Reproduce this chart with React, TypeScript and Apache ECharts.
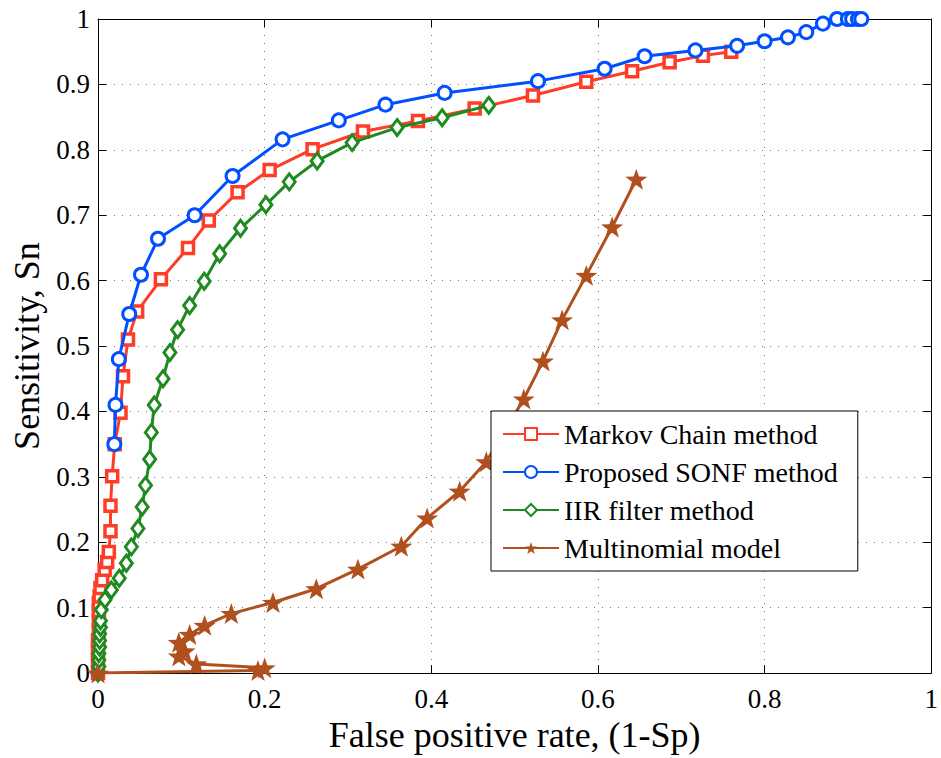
import React, { useEffect, useRef } from "react";
import * as echarts from "echarts";

// ---- Data ----
const seriesNames = [
  "Markov Chain method",
  "Proposed SONF method",
  "IIR filter method",
  "Multinomial model",
];

const markovX = [0, 0, 0, 0, 0.001, 0.001, 0.001, 0.001, 0.002, 0.003, 0.005, 0.008, 0.011, 0.013, 0.015, 0.015, 0.017, 0.020, 0.027, 0.030, 0.036, 0.047, 0.0755, 0.108, 0.133, 0.1675, 0.206, 0.2575, 0.318, 0.384, 0.452, 0.522, 0.586, 0.641, 0.686, 0.726, 0.760];
const markovY = [0, 0.02, 0.035, 0.05, 0.065, 0.08, 0.095, 0.107, 0.117, 0.13, 0.142, 0.158, 0.17, 0.185, 0.217, 0.256, 0.301, 0.350, 0.398, 0.454, 0.510, 0.553, 0.602, 0.650, 0.692, 0.735, 0.769, 0.801, 0.828, 0.844, 0.863, 0.883, 0.904, 0.920, 0.934, 0.944, 0.950];

const sonfX = [0.0196, 0.021, 0.025, 0.0375, 0.0516, 0.072, 0.116, 0.1615, 0.2215, 0.289, 0.345, 0.416, 0.528, 0.608, 0.656, 0.717, 0.767, 0.800, 0.828, 0.850, 0.870, 0.887, 0.900, 0.905, 0.912, 0.916];
const sonfY = [0.350, 0.410, 0.480, 0.549, 0.609, 0.664, 0.700, 0.760, 0.816, 0.845, 0.869, 0.887, 0.905, 0.924, 0.943, 0.952, 0.959, 0.966, 0.972, 0.980, 0.993, 1.0, 1.0, 1.0, 1.0, 1.0];

const iirX = [0, 0.001, 0.001, 0.001, 0.002, 0.002, 0.002, 0.003, 0.003, 0.004, 0.0084, 0.016, 0.0255, 0.034, 0.040, 0.048, 0.053, 0.057, 0.062, 0.064, 0.0675, 0.078, 0.0863, 0.0955, 0.110, 0.1275, 0.146, 0.171, 0.2015, 0.2295, 0.263, 0.305, 0.359, 0.413, 0.469];
const iirY = [0, 0.01, 0.02, 0.03, 0.04, 0.05, 0.06, 0.07, 0.08, 0.097, 0.112, 0.127, 0.145, 0.168, 0.193, 0.221, 0.254, 0.287, 0.327, 0.368, 0.410, 0.450, 0.490, 0.525, 0.562, 0.599, 0.641, 0.680, 0.716, 0.751, 0.783, 0.811, 0.834, 0.849, 0.868];

const multiX = [0, 0.192, 0.200, 0.118, 0.097, 0.104, 0.097, 0.110, 0.128, 0.160, 0.210, 0.262, 0.312, 0.364, 0.395, 0.434, 0.466, 0.511, 0.534, 0.557, 0.586, 0.617, 0.646];
const multiY = [0, 0.004, 0.008, 0.014, 0.026, 0.034, 0.047, 0.059, 0.073, 0.091, 0.108, 0.129, 0.159, 0.194, 0.237, 0.278, 0.323, 0.419, 0.477, 0.540, 0.608, 0.682, 0.755];

const xTickLabels = ["0", "0.2", "0.4", "0.6", "0.8", "1"];
const yTickLabels = ["0", "0.1", "0.2", "0.3", "0.4", "0.5", "0.6", "0.7", "0.8", "0.9", "1"];

const xTitle = "False positive rate, (1-Sp)";
const yTitle = "Sensitivity, Sn";

// ---- Styles ----
const COLORS = ["#FF3C28", "#0050FF", "#1F8A1F", "#B0501E"];
const FONT = "Liberation Serif";

function pairs(xs: number[], ys: number[]) {
  return xs.map((x, i) => [x, ys[i]]);
}

function starSymbol(): string {
  const pts: string[] = [];
  for (let i = 0; i < 10; i++) {
    const r = i % 2 === 0 ? 1 : 0.4;
    const a = -Math.PI / 2 + (i * Math.PI) / 5;
    pts.push(`${(r * Math.cos(a) + 1).toFixed(4)} ${(r * Math.sin(a) + 1).toFixed(4)}`);
  }
  return "path://M" + pts.join(" L") + " Z";
}

export default function App() {
  const ref = useRef<HTMLDivElement>(null);

  useEffect(() => {
    if (!ref.current) return;
    const chart = echarts.init(ref.current, undefined, { renderer: "svg" });

    const gridLine = { show: true, lineStyle: { type: [1, 7] as any, color: "#777", width: 1 } };
    const axisLine = { show: true, onZero: false, lineStyle: { color: "#000", width: 1 } };
    const tick = { show: true, inside: true, length: 8, lineStyle: { color: "#000", width: 1 } };

    const lineSeries = (idx: number, data: number[][], symbol: string, size: any, hollow: boolean, bw: number) => ({
      name: seriesNames[idx],
      type: "line",
      data,
      symbol,
      symbolSize: size,
      symbolKeepAspect: true,
      showSymbol: true,
      lineStyle: { color: COLORS[idx], width: 3 },
      itemStyle: hollow
        ? { color: "#fff", borderColor: COLORS[idx], borderWidth: bw }
        : { color: COLORS[idx], borderColor: COLORS[idx], borderWidth: 0 },
      emphasis: { disabled: true },
      z: 2 + idx,
    });

    chart.setOption({
      animation: false,
      backgroundColor: "#fff",
      grid: { left: 98, right: 9, top: 19, bottom: 81, containLabel: false },
      xAxis: [
        {
          type: "value",
          min: 0,
          max: 1,
          interval: 0.2,
          position: "bottom",
          axisLine,
          axisTick: tick,
          splitLine: gridLine,
          axisLabel: {
            color: "#000",
            fontFamily: FONT,
            fontSize: 27,
            margin: 12,
            formatter: (v: number) => xTickLabels[Math.round(v / 0.2)] ?? "",
          },
          name: xTitle,
          nameLocation: "middle",
          nameGap: 42,
          nameTextStyle: { color: "#000", fontFamily: FONT, fontSize: 36 },
        },
        {
          type: "value",
          min: 0,
          max: 1,
          interval: 0.2,
          position: "top",
          axisLine,
          axisTick: tick,
          splitLine: { show: false },
          axisLabel: { show: false },
        },
      ],
      yAxis: [
        {
          type: "value",
          min: 0,
          max: 1,
          interval: 0.1,
          position: "left",
          axisLine,
          axisTick: tick,
          splitLine: gridLine,
          axisLabel: {
            color: "#000",
            fontFamily: FONT,
            fontSize: 27,
            margin: 8,
            formatter: (v: number) => yTickLabels[Math.round(v / 0.1)] ?? "",
          },
          name: yTitle,
          nameLocation: "middle",
          nameGap: 52,
          nameTextStyle: { color: "#000", fontFamily: FONT, fontSize: 36 },
        },
        {
          type: "value",
          min: 0,
          max: 1,
          interval: 0.1,
          position: "right",
          axisLine,
          axisTick: tick,
          splitLine: { show: false },
          axisLabel: { show: false },
        },
      ],
      legend: {
        orient: "vertical",
        left: 491,
        top: 411,
        padding: [8, 20, 8, 11],
        itemGap: 8,
        itemWidth: 56,
        itemHeight: 15,
        backgroundColor: "#fff",
        borderColor: "#000",
        borderWidth: 1,
        borderRadius: 0,
        selectedMode: false,
        textStyle: { color: "#000", fontFamily: FONT, fontSize: 28, lineHeight: 30 },
        data: seriesNames,
        z: 10,
      },
      series: [
        lineSeries(0, pairs(markovX, markovY), "rect", 11, true, 3.5),
        lineSeries(1, pairs(sonfX, sonfY), "circle", 13, true, 3),
        lineSeries(2, pairs(iirX, iirY), "diamond", [12, 16], true, 3),
        lineSeries(3, pairs(multiX, multiY), starSymbol(), 22, false, 0),
      ],
    });

    return () => chart.dispose();
  }, []);

  return (
    <div
      ref={ref}
      style={{ position: "absolute", left: 0, top: 0, width: 941, height: 758 }}
    />
  );
}
